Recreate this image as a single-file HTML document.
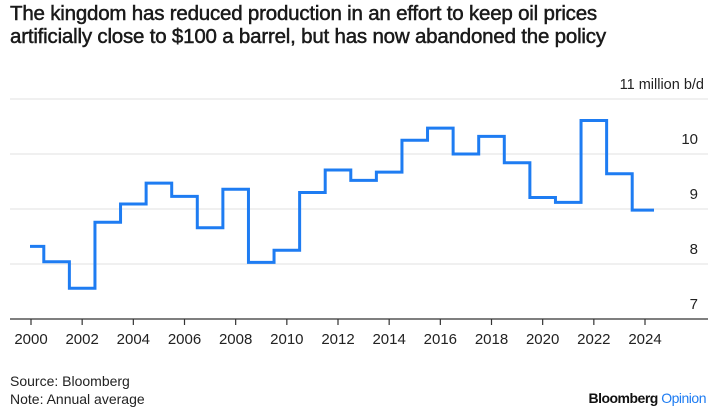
<!DOCTYPE html>
<html><head><meta charset="utf-8">
<style>
body{margin:0;width:716px;height:411px;background:#fff;overflow:hidden;font-family:"Liberation Sans",sans-serif;color:#111}
.t{position:absolute;left:10px;top:2px;font-size:20.5px;line-height:23px;font-weight:normal;-webkit-text-stroke:0.5px #1a1a1a;color:#1a1a1a;letter-spacing:-0.2px;white-space:nowrap}
svg{position:absolute;left:0;top:0}
.f{position:absolute;left:10px;font-size:14px;color:#222}
</style></head><body>
<div class="t">The kingdom has reduced production in an effort to keep oil prices<br>artificially close to $100 a barrel, but has now abandoned the policy</div>
<svg id="c" width="716" height="411"></svg>
<div class="f" style="top:373px">Source: Bloomberg</div>
<div class="f" style="top:391px">Note: Annual average</div>
<div style="position:absolute;right:10px;top:390px;font-size:14px;font-weight:bold;letter-spacing:-0.5px">Bloomberg <span style="color:#1e7cf2;font-weight:normal">Opinion</span></div>
<script>
const years=[2000,2001,2002,2003,2004,2005,2006,2007,2008,2009,2010,2011,2012,2013,2014,2015,2016,2017,2018,2019,2020,2021,2022,2023,2024];
const production=[8.32,8.04,7.56,8.76,9.09,9.47,9.23,8.66,9.36,8.03,8.25,9.30,9.71,9.52,9.67,10.25,10.47,10.0,10.32,9.84,9.21,9.12,10.61,9.64,8.98];
const yTicks=[7,8,9,10,11];
const xTickLabels=[2000,2002,2004,2006,2008,2010,2012,2014,2016,2018,2020,2022,2024];
const NS="http://www.w3.org/2000/svg",svg=document.getElementById('c');
const x=v=>31+(v-2000)*(614/24);
const y=v=>319-(v-7)*55;
function mk(t,a){const e=document.createElementNS(NS,t);for(const k in a)e.setAttribute(k,a[k]);svg.appendChild(e);return e;}
yTicks.forEach(v=>{
 if(v>7){const g=mk('line',{x1:10,x2:708,y1:y(v),y2:y(v),stroke:'#ececec','stroke-width':1.5});
 
 }
 const t=mk('text',{x:698,y:y(v)-10,'text-anchor':'end','font-size':15,fill:'#222'});
 t.textContent=v===11?'11 million b/d':v;
 if(v===11){t.setAttribute('x',704);t.setAttribute('font-size',14.5);}
 
 
});
const ax=mk('line',{x1:10,x2:708,y1:y(7),y2:y(7),stroke:'#333','stroke-width':1.3});


xTickLabels.forEach(v=>{
 const tk=mk('line',{x1:x(v),x2:x(v),y1:y(7),y2:y(7)+6,stroke:'#333','stroke-width':1.2});
 
 
 const t=mk('text',{x:x(v),y:y(7)+25,'text-anchor':'middle','font-size':15,fill:'#222'});
 t.textContent=v;
 
 
});
let d='';
years.forEach((yr,i)=>{
 const x0=x(yr-0.5),x1=x(yr+0.5),yy=y(production[i]);
 d+=(i===0?'M'+(x(yr)-1):'L'+x0)+','+yy+' L'+(i===years.length-1?x(yr)+9:x1)+','+yy+' ';
});
const p=mk('path',{d:d,fill:'none',stroke:'#1e7cf2','stroke-width':3,'stroke-linejoin':'miter'});


</script>
</body></html>
